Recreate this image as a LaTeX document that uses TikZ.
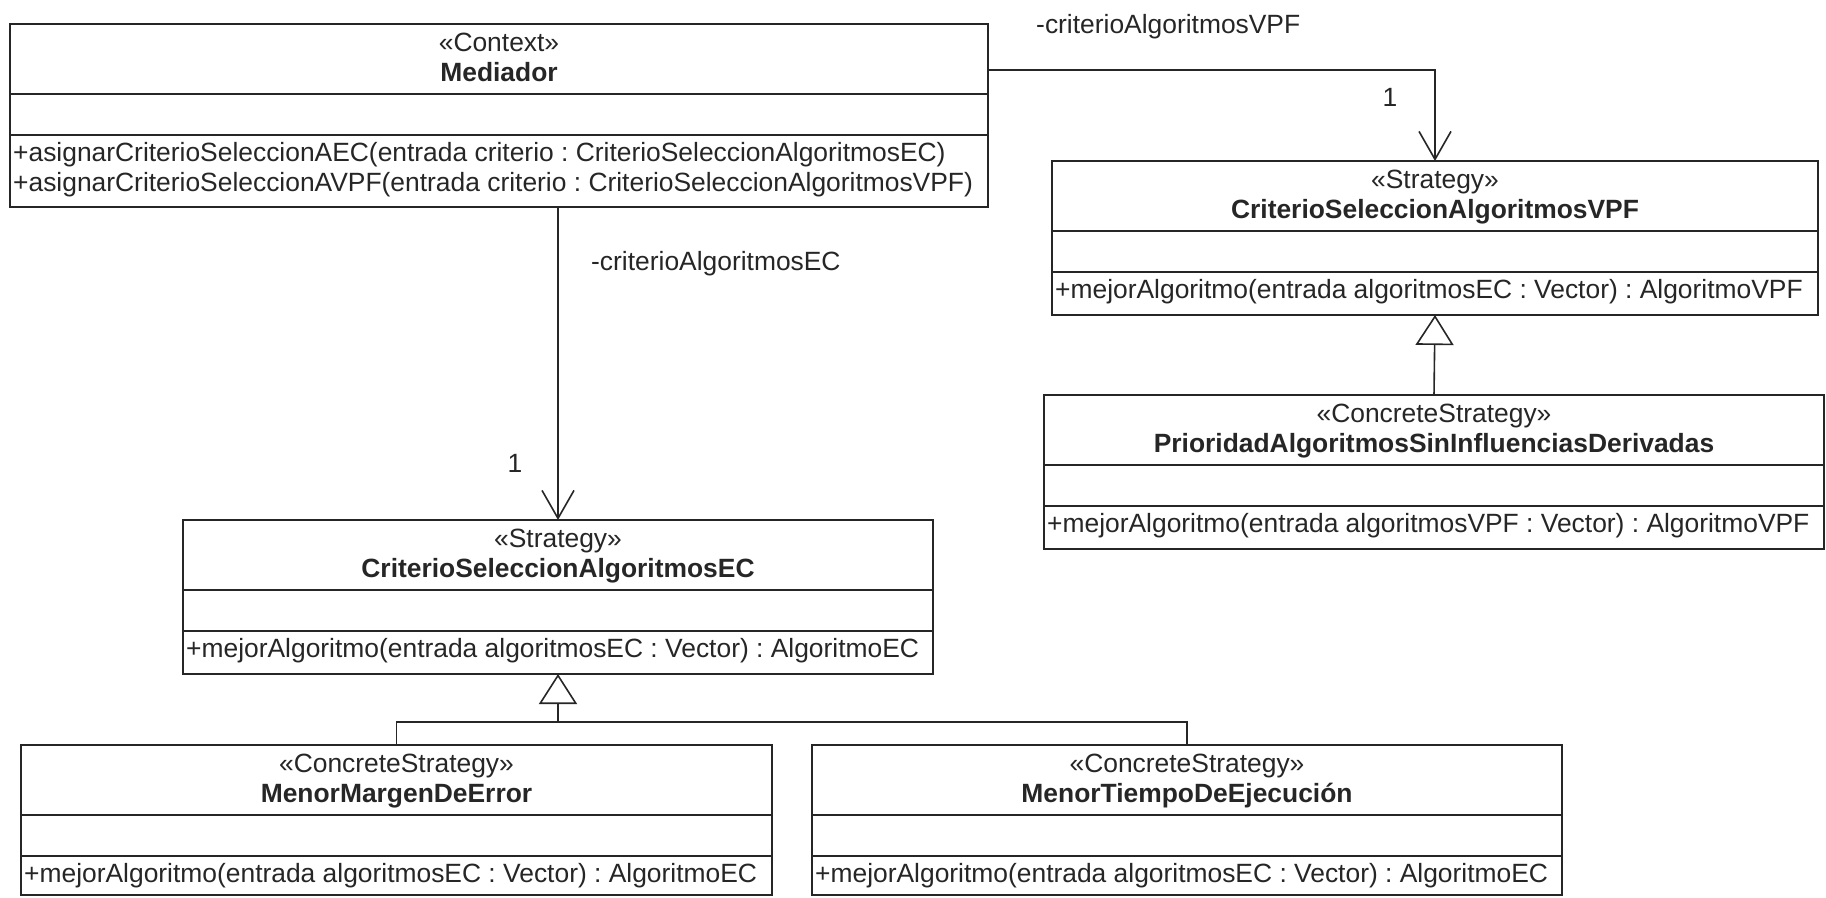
\documentclass[tikz,border=0pt]{standalone}
\usepackage{fontspec}
\setmainfont{Liberation Sans}
\usetikzlibrary{arrows.meta}
\frenchspacing

\tikzset{
  cls/.style={draw=black!85, line width=2pt, fill=white, inner sep=0pt, outer sep=0pt, anchor=north west},
  sepline/.style={draw=black!85, line width=1.8pt},
  txt/.style={inner sep=0pt, text=black!85, font=\fontsize{26.4pt}{31pt}\selectfont},
  stereo/.style={txt, anchor=base},
  title/.style={txt, anchor=base, font=\fontsize{26.4pt}{31pt}\selectfont\bfseries},
  oper/.style={txt, anchor=base west},
  rolelabel/.style={txt, anchor=base west},
  multlabel/.style={txt, anchor=base},
  link/.style={draw=black!85, line width=1.6pt},
  assoc/.style={link, -{Straight Barb[length=28pt,width=32pt,line width=1.6pt]}},
  gen/.style={link, -{Triangle[open,length=30pt,width=38pt,line width=1.6pt]}},
}

% class box: name, x, y (top left), width, height, stereotype, class name
\newcommand\umlclass[7]{%
  \node[cls, minimum width=#4pt, minimum height=#5pt] (#1) at (#2,#3) {};
  \draw[sepline] ([yshift=-70pt]#1.north west) -- ([yshift=-70pt]#1.north east);
  \draw[sepline] ([yshift=-111pt]#1.north west) -- ([yshift=-111pt]#1.north east);
  \node[stereo] (#1-st) at ([yshift=-27pt]#1.north) {#6};
  \node[title] (#1-nm) at ([yshift=-57pt]#1.north) {#7};
}
% operation line: class name, line index, text
\newcommand\umlop[3]{%
  \node[oper] (#1-op#2) at ([xshift=3pt,yshift=-137pt-30pt*#2]#1.north west) {#3};
}

\begin{document}
\begin{tikzpicture}[x=1pt,y=-1pt]
  \fill[white] (0,0) rectangle (1826,897);
  \useasboundingbox (0,0) rectangle (1826,897);

  % context
  \umlclass{med}{10}{24}{978}{183}{«Context»}{Mediador}
  \umlop{med}{0}{+asignarCriterioSeleccionAEC(entrada criterio : CriterioSeleccionAlgoritmosEC)}
  \umlop{med}{1}{+asignarCriterioSeleccionAVPF(entrada criterio : CriterioSeleccionAlgoritmosVPF)}

  % strategies
  \umlclass{vpf}{1052}{161}{766}{154}{«Strategy»}{CriterioSeleccionAlgoritmosVPF}
  \umlop{vpf}{0}{+mejorAlgoritmo(entrada algoritmosEC : Vector) : AlgoritmoVPF}

  \umlclass{ec}{183}{520}{750}{154}{«Strategy»}{CriterioSeleccionAlgoritmosEC}
  \umlop{ec}{0}{+mejorAlgoritmo(entrada algoritmosEC : Vector) : AlgoritmoEC}

  % concrete strategies
  \umlclass{pri}{1044}{395}{780}{154}{«ConcreteStrategy»}{PrioridadAlgoritmosSinInfluenciasDerivadas}
  \umlop{pri}{0}{+mejorAlgoritmo(entrada algoritmosVPF : Vector) : AlgoritmoVPF}

  \umlclass{mme}{21}{745}{751}{150}{«ConcreteStrategy»}{MenorMargenDeError}
  \umlop{mme}{0}{+mejorAlgoritmo(entrada algoritmosEC : Vector) : AlgoritmoEC}

  \umlclass{mte}{812}{745}{750}{150}{«ConcreteStrategy»}{MenorTiempoDeEjecución}
  \umlop{mte}{0}{+mejorAlgoritmo(entrada algoritmosEC : Vector) : AlgoritmoEC}

  % associations
  \coordinate (medr) at (988,70);
  \draw[assoc] (medr) -| (vpf.north);
  \node[rolelabel] (lvpf) at (1036,33) {-criterioAlgoritmosVPF};
  \node[multlabel] (mvpf) at (1390,106) {1};

  \draw[assoc] (ec.north |- med.south) -- (ec.north);
  \node[rolelabel] (lec) at (591,270) {-criterioAlgoritmosEC};
  \node[multlabel] (mec) at (515,472) {1};

  % generalizations
  \draw[gen] (pri.north) -- (vpf.south);
  \coordinate (gj) at (ec.south |- 0,722);
  \draw[link] (mme.north) -- (mme.north |- gj) -- (mte.north |- gj) -- (mte.north);
  \draw[gen] (gj) -- (ec.south);
\end{tikzpicture}
\end{document}
